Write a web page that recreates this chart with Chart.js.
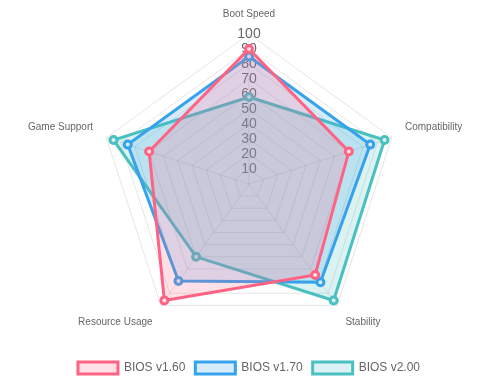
<!DOCTYPE html>
<html>
<head>
<meta charset="utf-8">
<script src="https://cdn.jsdelivr.net/npm/chart.js@4"></script>
<style>
  html, body { margin: 0; padding: 0; background: #fff; }
  #wrap { width: 498px; height: 384px; }
</style>
</head>
<body>
<div id="wrap"><canvas id="biosChart"></canvas></div>
<script>
const labels = ['Boot Speed', 'Compatibility', 'Stability', 'Resource Usage', 'Game Support'];
const bios160 = [90, 70, 75, 96, 70];
const bios170 = [85, 85, 81, 80, 85];
const bios200 = [58, 95, 96, 60, 95];
const tickValues = [0, 10, 20, 30, 40, 50, 60, 70, 80, 90, 100];

Chart.defaults.font.family = "'Liberation Sans', Arial, sans-serif";
Chart.defaults.color = '#666';

const ctx = document.getElementById('biosChart').getContext('2d');
new Chart(ctx, {
    type: 'radar',
    data: {
        labels: labels,
        datasets: [
            {
                label: 'BIOS v1.60',
                data: bios160,
                borderColor: 'rgb(255, 99, 132)',
                backgroundColor: 'rgba(255, 99, 132, 0.2)',
                pointBackgroundColor: 'rgb(255, 225, 231)',
                pointBorderColor: 'rgb(255, 99, 132)',
                borderWidth: 3
            },
            {
                label: 'BIOS v1.70',
                data: bios170,
                borderColor: 'rgb(54, 162, 235)',
                backgroundColor: 'rgba(54, 162, 235, 0.2)',
                pointBackgroundColor: 'rgb(215, 236, 251)',
                pointBorderColor: 'rgb(54, 162, 235)',
                borderWidth: 3
            },
            {
                label: 'BIOS v2.00',
                data: bios200,
                borderColor: 'rgb(75, 192, 192)',
                backgroundColor: 'rgba(75, 192, 192, 0.2)',
                pointBackgroundColor: 'rgb(219, 242, 242)',
                pointBorderColor: 'rgb(75, 192, 192)',
                borderWidth: 3
            }
        ]
    },
    options: {
        responsive: true,
        maintainAspectRatio: false,
        animation: false,
        elements: { point: { radius: 3.5, borderWidth: 1.5 } },
        scales: {
            r: {
                min: 0,
                max: 100,
                afterBuildTicks: (scale) => {
                    scale.ticks = tickValues.map(v => ({ value: v }));
                },
                ticks: {
                    showLabelBackdrop: false,
                    color: '#666',
                    font: { size: 14 }
                },
                pointLabels: {
                    font: { size: 10 },
                    color: '#666'
                }
            }
        },
        plugins: {
            legend: {
                position: 'bottom',
                labels: { font: { size: 12 } }
            }
        }
    }
});
</script>
</body>
</html>
